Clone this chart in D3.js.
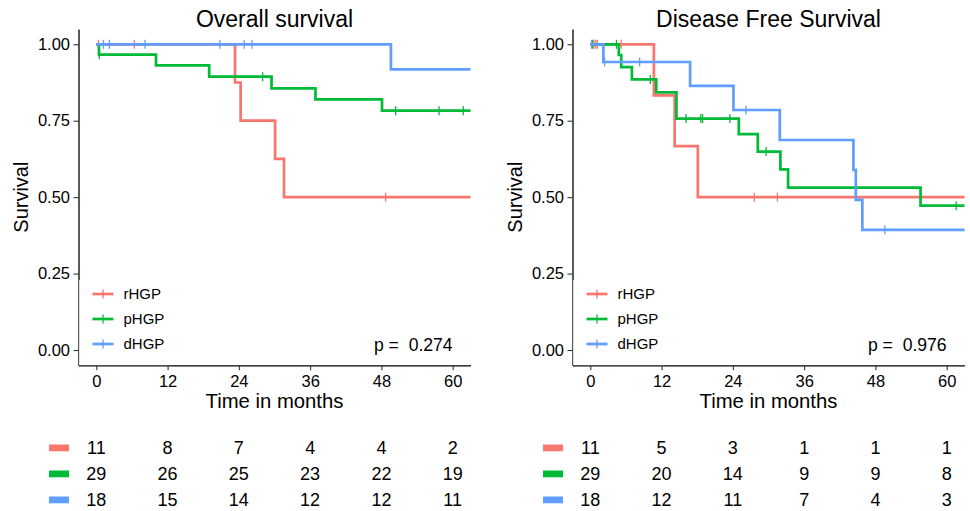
<!DOCTYPE html>
<html>
<head>
<meta charset="utf-8">
<script src="https://cdn.jsdelivr.net/npm/d3@7"></script>
<style>
body{margin:0;background:#fff;}
text{font-family:"Liberation Sans",Arial,sans-serif;fill:#000;}
</style>
</head>
<body>
<svg id="chart" width="970" height="511"></svg>
<script>
const groupNames = ["rHGP","pHGP","dHGP"];
const groupColors = ["#F8766D","#00BA38","#619CFF"];
const timeTicks = [0,12,24,36,48,60];
const survTicks = [0,0.25,0.5,0.75,1];

// overall survival (step points: time, survival)
const osTimes = [
  [0,23.35,24.3,30.1,31.6,63],
  [0,0.45,10.05,19,29.5,36.9,48.1,63],
  [0,49.6,63]
];
const osSurv = [
  [1,0.875,0.75,0.625,0.5,0.5],
  [1,0.966,0.931,0.894,0.856,0.82,0.783,0.783],
  [1,0.918,0.918]
];
const osCensor = [
  [0.35,6.4,48.7],
  [0.5,28,50.4,57.7,61.8],
  [1.2,2.2,8.2,20.8,24.9,26.2]
];
const osRisk = [
  [11,8,7,4,4,2],
  [29,26,25,23,22,19],
  [18,15,14,12,12,11]
];
const osP = "0.274";

// disease free survival
const dfsTimes = [
  [0,10.7,14.2,18.1,63],
  [0,4.8,5.2,7.0,11.1,14.5,25.0,28.2,32.0,33.3,55.6,63],
  [0,2.2,16.8,24.1,31.9,44.3,44.7,45.8,63]
];
const dfsSurv = [
  [1,0.833,0.667,0.5,0.5],
  [1,0.965,0.925,0.885,0.843,0.757,0.706,0.649,0.591,0.531,0.472,0.472],
  [1,0.942,0.864,0.785,0.687,0.589,0.491,0.393,0.393]
];
const dfsCensor = [
  [0.6,0.9,1.2,5.2,27.6,31.5],
  [0.4,4.4,10.1,16.1,18.6,18.9,23.5,29.6,61.6],
  [0.2,2.4,8.3,26.2,49.6]
];
const dfsRisk = [
  [11,5,3,1,1,1],
  [29,20,14,9,9,8],
  [18,12,11,7,4,3]
];
const dfsP = "0.976";

const PLOT_TOP = 29, PLOT_BOTTOM = 365.3, PLOT_W = 392;
const svg = d3.select('#chart');

function survAt(times, surv, t){
    let s = surv[0];
    for (let i = 0; i < times.length; i++){ if (times[i] <= t) s = surv[i]; }
    return s;
}

function drawPanel(left, title, times, surv, cens, risk, pval){
    const g = svg.append('g');
    const x = d3.scaleLinear().domain([-3,63]).range([left, left+PLOT_W]);
    const y = d3.scaleLinear().domain([-0.05,1.05]).range([PLOT_BOTTOM, PLOT_TOP]);

    g.append('text')
        .attr('x', left+PLOT_W/2).attr('y', 27)
        .attr('text-anchor','middle')
        .attr('font-size','23px')
        .text(title);

    const yAxis = g.append('g')
        .attr('transform',`translate(${left},0)`)
        .call(d3.axisLeft(y).tickValues(survTicks).tickFormat(d3.format('.2f')).tickSize(5).tickSizeOuter(0).tickPadding(3.5));
    const xAxis = g.append('g')
        .attr('transform',`translate(0,${PLOT_BOTTOM})`)
        .call(d3.axisBottom(x).tickValues(timeTicks).tickSize(5).tickSizeOuter(0).tickPadding(5));
    [yAxis, xAxis].forEach(a=>{
        a.select('.domain').attr('stroke','#000').attr('stroke-width',1.3);
        a.selectAll('.tick line').attr('stroke','#333').attr('stroke-width',1.1);
        a.selectAll('.tick text').attr('font-size','16.5px').attr('fill','#000')
            .attr('font-family','"Liberation Sans",Arial,sans-serif');
    });

    g.append('text')
        .attr('x', left+PLOT_W/2).attr('y', 408)
        .attr('text-anchor','middle')
        .attr('font-size','20.3px')
        .text('Time in months');
    g.append('text')
        .attr('transform',`translate(${left-50.5},${(PLOT_TOP+PLOT_BOTTOM)/2}) rotate(-90)`)
        .attr('text-anchor','middle')
        .attr('font-size','20px')
        .text('Survival');

    const line = d3.line()
        .x(d=>x(d[0])).y(d=>y(d[1]))
        .curve(d3.curveStepAfter);

    groupNames.forEach((name,i)=>{
        const pts = times[i].map((t,j)=>[t, surv[i][j]]);
        g.append('path')
            .datum(pts)
            .attr('d', line)
            .attr('fill','none')
            .attr('stroke', groupColors[i])
            .attr('stroke-width', 2.7);
        g.selectAll(null)
            .data(cens[i])
            .join('line')
            .attr('x1', d=>x(d)).attr('x2', d=>x(d))
            .attr('y1', d=>y(survAt(times[i], surv[i], d))-4.5)
            .attr('y2', d=>y(survAt(times[i], surv[i], d))+4.5)
            .attr('stroke', groupColors[i])
            .attr('stroke-width', 1.3);
    });

    // legend box (covers part of the x axis line like the original)
    g.append('rect')
        .attr('x', left+0.7).attr('y', 280)
        .attr('width', 91).attr('height', PLOT_BOTTOM-280-0.2)
        .attr('fill','#fff');
    const legY = [294,319,344];
    groupNames.forEach((name,i)=>{
        g.append('line')
            .attr('x1', left+14).attr('x2', left+35)
            .attr('y1', legY[i]).attr('y2', legY[i])
            .attr('stroke', groupColors[i]).attr('stroke-width', 2.7);
        g.append('line')
            .attr('x1', left+24.5).attr('x2', left+24.5)
            .attr('y1', legY[i]-4.5).attr('y2', legY[i]+4.5)
            .attr('stroke', groupColors[i]).attr('stroke-width', 1.3);
        g.append('text')
            .attr('x', left+45).attr('y', legY[i])
            .attr('dy','0.36em')
            .attr('font-size','15px')
            .text(name);
    });

    g.append('text')
        .attr('x', x(60)).attr('y', 350.7)
        .attr('text-anchor','end')
        .attr('font-size','17.6px')
        .style('white-space','pre')
        .text('p =  ' + pval);

    // numbers at risk
    risk.forEach((row,i)=>{
        const base = 454 + i*26;
        g.append('rect')
            .attr('x', left-29.5).attr('y', base-9.5)
            .attr('width', 20).attr('height', 6.8)
            .attr('fill', groupColors[i]);
        g.selectAll(null)
            .data(row)
            .join('text')
            .attr('x', (d,j)=>x(timeTicks[j]))
            .attr('y', base)
            .attr('text-anchor','middle')
            .attr('font-size','18px')
            .text(d=>d);
    });
}

drawPanel(78.5, 'Overall survival', osTimes, osSurv, osCensor, osRisk, osP);
drawPanel(572.5, 'Disease Free Survival', dfsTimes, dfsSurv, dfsCensor, dfsRisk, dfsP);
</script>
</body>
</html>
